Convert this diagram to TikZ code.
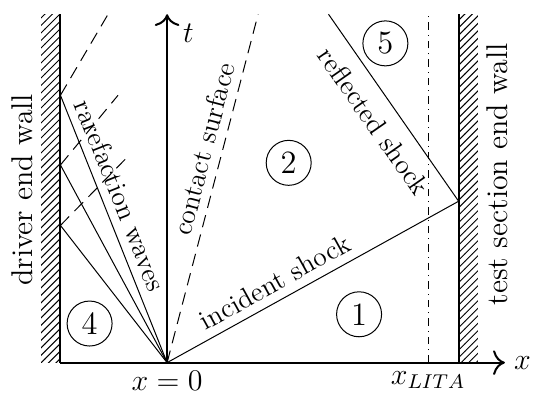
\documentclass[tikz,border=0pt]{standalone}
\usetikzlibrary{calc,patterns,arrows.meta}

\begin{document}
\begin{tikzpicture}[font=\fontsize{11}{13}\selectfont,
  region/.style={draw,circle,inner sep=1pt,minimum size=18pt,font=\fontsize{13}{15}\selectfont},
  wave/.style={dash pattern=on 5pt off 3pt},
  axis/.style={thick,-{To[scale=1.4]}}]
\useasboundingbox (-2.35,-0.58) rectangle (5.16,5.1);

\coordinate (O) at (0,0);
\coordinate (LW) at (-1.5,0);
\coordinate (LWtop) at (-1.5,4.9);
\coordinate (RW) at (4.1,0);
\coordinate (RWtop) at (4.1,4.9);
\coordinate (R) at (4.1,2.27);
\coordinate (Rtop) at (2.27,4.9);
\coordinate (Ctop) at (1.28,4.9);
\coordinate (W1) at (-1.5,3.76);
\coordinate (W2) at (-1.5,2.78);
\coordinate (W3) at (-1.5,1.93);

% walls
\fill[pattern=north east lines] (-1.77,0) rectangle (LWtop);
\fill[pattern=north east lines] (RW) rectangle (4.37,4.9);
\draw[thick] (LW) -- (LWtop);
\draw[thick] (RW) -- (RWtop);

\node[rotate=90] (lwall) at (-2.04,2.43) {\large driver end wall};
\node[rotate=90] (rwall) at (4.64,2.65) {\large test section end wall};

% axes
\draw[axis] (LW) -- (4.75,0) node[right] (xlab) {\large$x$};
\draw[axis] (O) -- (0,4.9);
\node (tlab) at (0.3,4.63) {\large$t$};
\node[below] (x0) at (O) {\large$x=0$};

\draw[dashdotted] (3.67,0) node[below] (xl) {\large$x_{LITA}$} -- (3.67,4.9);

% shocks
\draw (O) -- (R) node[pos=0.4,above,sloped] (inc) {incident shock};
\draw (Rtop) -- (R) node[midway,below=2pt,sloped] (refl) {reflected shock};
\draw[wave] (O) -- (Ctop) node[pos=0.6,above,sloped] (cont) {contact surface};

% rarefaction fan
\draw (W1) -- (O) node[pos=0.4,above,sloped] (rar) {rarefaction waves};
\draw (W2) -- (O);
\draw (W3) -- (O);

\draw[wave] (W1) -- (-0.83,4.9);
\draw[wave] (W2) -- (-0.69,3.76);
\draw[wave] (W3) -- (-0.56,2.89);

% regions
\node[region] (r1) at (2.7,0.68) {1};
\node[region] (r2) at (1.71,2.81) {2};
\node[region] (r4) at (-1.09,0.55) {4};
\node[region] (r5) at (3.07,4.49) {5};

\end{tikzpicture}
\end{document}
